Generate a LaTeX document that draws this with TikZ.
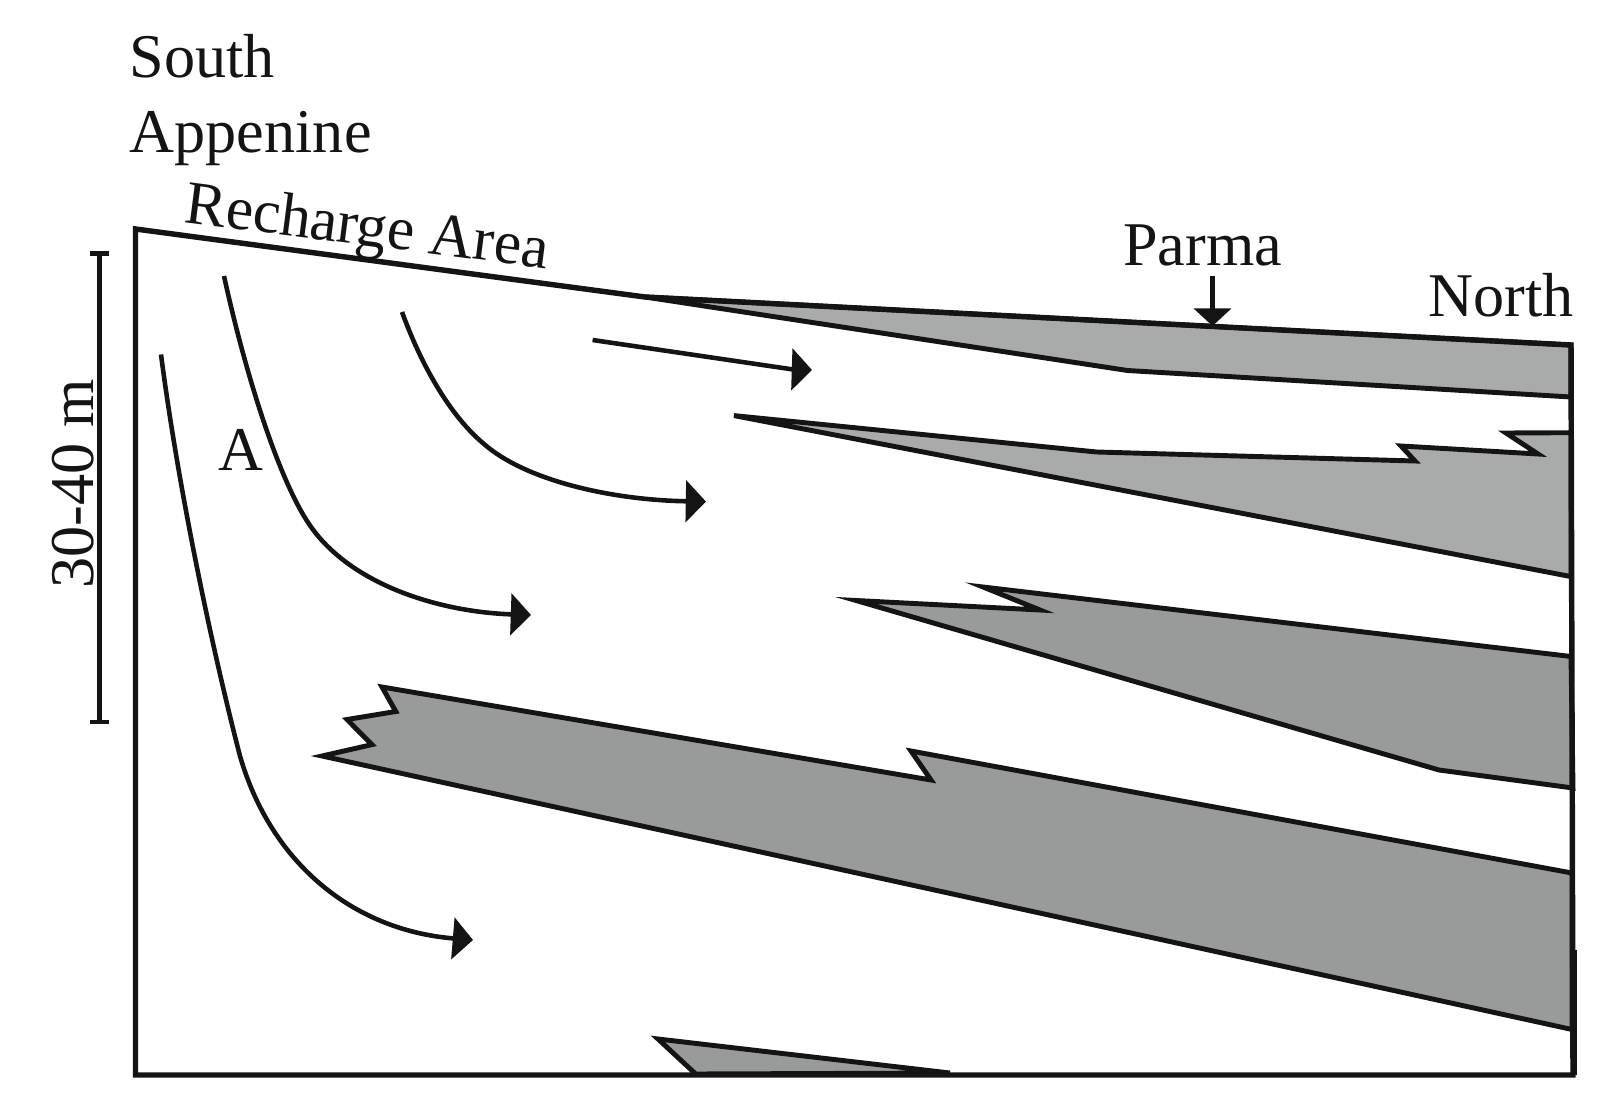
\documentclass[tikz,border=0pt]{standalone}
\usepackage{fontspec}
\setmainfont{Liberation Serif}
\usetikzlibrary{arrows.meta}
\definecolor{ink}{HTML}{141414}
\definecolor{lightbed}{HTML}{A9ABAB}
\definecolor{darkbed}{HTML}{999B9A}
\tikzset{
  label text/.style={inner sep=0pt, anchor=base west, text=ink, font=\fontsize{35.4}{35.4}\selectfont},
  bed/.style={draw=ink, line width=2.8pt, line join=miter},
  flow/.style={draw=ink, line width=2.6pt, -{Triangle[length=11.5pt, width=23.5pt, fill=ink]}}
}
\begin{document}
\begin{tikzpicture}[x=0.02cm, y=-0.02cm]
            \useasboundingbox (0,0) rectangle (1616,1114);
            \node[label text] (south) at (129.5,77.5) {South};
            \node[label text] (appenine) at (129.5,153) {Appenine};
            \node[label text, rotate=-7.3, font=\fontsize{35}{35}\selectfont] (recharge) at (183,222) {Recharge Area};
            \node[label text] (parma) at (1123,265.7) {Parma};
            \node[label text] (north) at (1428,317) {North};
            \node[label text] (a) at (218,470.7) {A};
            \node[label text, rotate=90] (thick) at (93,589) {30-40 m};
            \coordinate (parmatop) at (1212.5,276);
            \coordinate (parmatip) at (1212.5,326);
            \coordinate (bartop) at (99.5,251.5);
            \coordinate (barbot) at (99.5,724);
            \filldraw[bed, fill=lightbed]
              (645,297) -- (1571,345) -- (1571,397) -- (1127.5,370.5) -- cycle;
            \filldraw[bed, fill=lightbed]
              (734,415.6) -- (1096.6,452) -- (1415,461) -- (1401,446)
              -- (1538,454) -- (1506,433) -- (1571,432.7) -- (1571,576.6) -- cycle;
            \filldraw[bed, fill=darkbed]
              (856,600.5) -- (1040,610) -- (983,587) -- (1571,656.5)
              -- (1573,788) -- (1439,770) -- cycle;
            \filldraw[bed, fill=darkbed]
              (382,687) -- (395.8,711.5) -- (347,719.5) -- (372,744.6)
              -- (322,756) -- (1572,1029.5) -- (1572,873) -- (911,751)
              -- (931,780) -- cycle;
            \filldraw[bed, fill=darkbed]
              (658,1039) -- (950,1073) -- (695.7,1074) -- cycle;
            \draw[ink, line width=3.1pt, line join=miter]
              (135.5,1075) -- (135.5,229) -- (645,297) -- (1571,345)
              -- (1573,1075) -- cycle;
            \draw[ink, line width=2.2pt] (1575,950) -- (1575,1075);
            \draw[ink, line width=2.5pt, {Bar[width=11pt]}-{Bar[width=11pt]}] (bartop) -- (barbot);
            \draw[flow] (592.6,340) -- (792.5,369.4) -- (812,370);
            \draw[flow] (402,312) .. controls (425,375) and (455,420) .. (484,444)
              .. controls (525,480) and (610,500) .. (706,501.6);
            \draw[flow] (224,276) .. controls (245,372) and (278,478) .. (309,524)
              .. controls (350,585) and (440,612) .. (531,615);
            \draw[flow] (161,354.5) .. controls (180,500) and (215,660) .. (240,756)
              .. controls (270,860) and (350,930) .. (473,940);
            \draw[ink, line width=2.8pt, -{Triangle[length=10pt, width=21pt, fill=ink]}] (parmatop) -- (parmatip);
\end{tikzpicture}
\end{document}
